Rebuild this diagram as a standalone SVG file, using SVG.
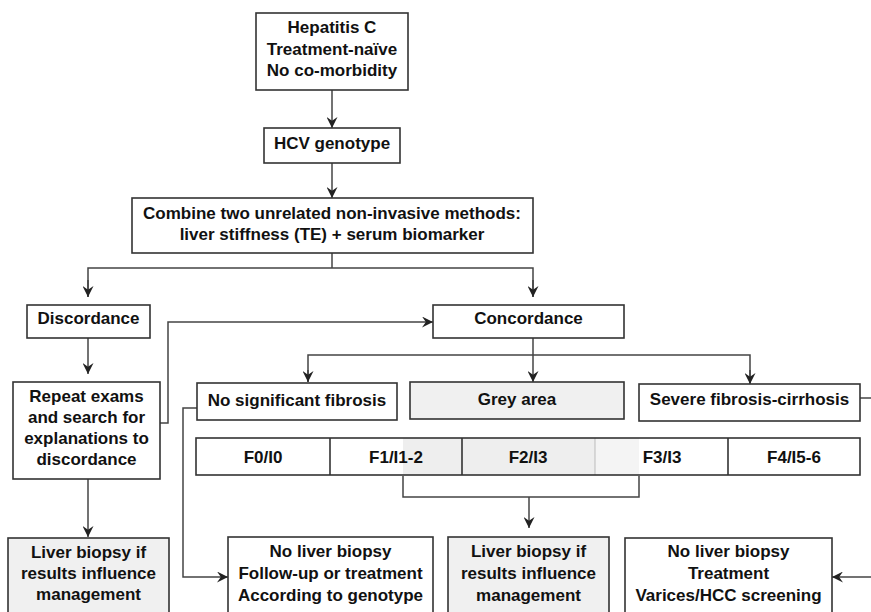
<svg xmlns="http://www.w3.org/2000/svg" width="871" height="612" viewBox="0 0 871 612">
<style>
.box{fill:#fff;stroke:#333;stroke-width:1.6}
.grey{fill:#f0f0f0;stroke:#333;stroke-width:1.6}
.t{font-family:"Liberation Sans",Arial,sans-serif;font-weight:bold;font-size:17px;fill:#111;text-anchor:middle}
.c{fill:none;stroke:#444;stroke-width:1.5}
</style>
<defs>
<marker id="ah" viewBox="0 0 10 10" refX="10" refY="5" markerWidth="11" markerHeight="11" markerUnits="userSpaceOnUse" orient="auto">
<path d="M0,0 L10,5 L0,10 L3.5,5 z" fill="#222"/>
</marker>
</defs>
<rect width="871" height="612" fill="#fff"/>

<g id="connectors">
<line class="c" x1="332" y1="90" x2="332" y2="128" marker-end="url(#ah)"/>
<line class="c" x1="332" y1="163" x2="332" y2="198" marker-end="url(#ah)"/>
<line class="c" x1="332" y1="253" x2="332" y2="268"/>
<polyline class="c" points="88,297 88,268 533,268 533,297"/>
<line class="c" x1="88" y1="280" x2="88" y2="297" marker-end="url(#ah)"/>
<line class="c" x1="533" y1="280" x2="533" y2="297" marker-end="url(#ah)"/>
<line class="c" x1="88" y1="338" x2="88" y2="374" marker-end="url(#ah)"/>
<polyline class="c" points="160,423 168,423 168,322 433,322" marker-end="url(#ah)"/>
<line class="c" x1="533" y1="338" x2="533" y2="382" marker-end="url(#ah)"/>
<polyline class="c" points="308,382 308,355 750,355 750,383"/>
<line class="c" x1="308" y1="370" x2="308" y2="382" marker-end="url(#ah)"/>
<line class="c" x1="750" y1="370" x2="750" y2="384" marker-end="url(#ah)"/>
<line class="c" x1="860" y1="398" x2="871" y2="398"/>
<polyline class="c" points="197,408 183,408 183,577 228,577" marker-end="url(#ah)"/>
<line class="c" x1="88" y1="479" x2="88" y2="537" marker-end="url(#ah)"/>
<polyline class="c" points="403,476 403,497 639,497 639,476"/>
<line class="c" x1="529" y1="497" x2="529" y2="528" marker-end="url(#ah)"/>
<line class="c" x1="871" y1="577" x2="832" y2="577" marker-end="url(#ah)"/>
</g>

<g id="hepatitis">
<rect class="box" x="256" y="13" width="152" height="77"/>
<text class="t" x="332" y="33">Hepatitis C</text>
<text class="t" x="332" y="55">Treatment-naïve</text>
<text class="t" x="332" y="76">No co-morbidity</text>
</g>
<g id="genotype">
<rect class="box" x="264" y="128" width="136" height="35"/>
<text class="t" x="332" y="149">HCV genotype</text>
</g>
<g id="combine">
<rect class="box" x="132" y="198" width="401" height="55"/>
<text class="t" x="332" y="219">Combine two unrelated non-invasive methods:</text>
<text class="t" x="332" y="240">liver stiffness (TE) + serum biomarker</text>
</g>
<g id="discordance">
<rect class="box" x="27" y="305" width="123" height="33"/>
<text class="t" x="88.5" y="324">Discordance</text>
</g>
<g id="concordance">
<rect class="box" x="433" y="305" width="191" height="33"/>
<text class="t" x="528.5" y="324">Concordance</text>
</g>
<g id="repeat">
<rect class="box" x="13" y="382" width="147" height="97"/>
<text class="t" x="86.5" y="402">Repeat exams</text>
<text class="t" x="86.5" y="423">and search for</text>
<text class="t" x="86.5" y="444">explanations to</text>
<text class="t" x="86.5" y="465">discordance</text>
</g>
<g id="nosig">
<rect class="box" x="197" y="383" width="200" height="37"/>
<text class="t" x="297" y="406">No significant fibrosis</text>
</g>
<g id="greyarea">
<rect class="grey" x="410" y="382" width="214" height="37"/>
<text class="t" x="517" y="405">Grey area</text>
</g>
<g id="severe">
<rect class="box" x="639" y="384" width="221" height="37"/>
<text class="t" x="749.5" y="405">Severe fibrosis-cirrhosis</text>
</g>
<g id="scale">
<rect x="196" y="438" width="664" height="37" fill="#fff"/>
<rect x="403" y="438" width="192" height="37" fill="#eeeeee"/>
<rect x="595" y="438" width="44" height="37" fill="#f4f4f4"/>
<line x1="595" y1="438" x2="595" y2="475" stroke="#bbb" stroke-width="1"/>
<line x1="330" y1="438" x2="330" y2="475" stroke="#333" stroke-width="1.6"/>
<line x1="462" y1="438" x2="462" y2="475" stroke="#333" stroke-width="1.6"/>
<line x1="728" y1="438" x2="728" y2="475" stroke="#333" stroke-width="1.6"/>
<rect x="196" y="438" width="664" height="37" fill="none" stroke="#333" stroke-width="1.6"/>
<text class="t" x="263" y="463">F0/I0</text>
<text class="t" x="396" y="463">F1/I1-2</text>
<text class="t" x="528" y="463">F2/I3</text>
<text class="t" x="662" y="463">F3/I3</text>
<text class="t" x="794" y="463">F4/I5-6</text>
</g>
<g id="biopsy-left">
<rect class="grey" x="8" y="538" width="161" height="84"/>
<text class="t" x="88.5" y="558">Liver biopsy if</text>
<text class="t" x="88.5" y="579">results influence</text>
<text class="t" x="88.5" y="600">management</text>
</g>
<g id="nobiopsy-follow">
<rect class="box" x="228" y="537" width="205" height="85"/>
<text class="t" x="330.5" y="557">No liver biopsy</text>
<text class="t" x="330.5" y="579">Follow-up or treatment</text>
<text class="t" x="330.5" y="601">According to genotype</text>
</g>
<g id="biopsy-mid">
<rect class="grey" x="448" y="537" width="161" height="85"/>
<text class="t" x="528.5" y="557">Liver biopsy if</text>
<text class="t" x="528.5" y="579">results influence</text>
<text class="t" x="528.5" y="601">management</text>
</g>
<g id="nobiopsy-treat">
<rect class="box" x="625" y="538" width="207" height="84"/>
<text class="t" x="728.5" y="557">No liver biopsy</text>
<text class="t" x="728.5" y="579">Treatment</text>
<text class="t" x="728.5" y="601">Varices/HCC screening</text>
</g>
</svg>
